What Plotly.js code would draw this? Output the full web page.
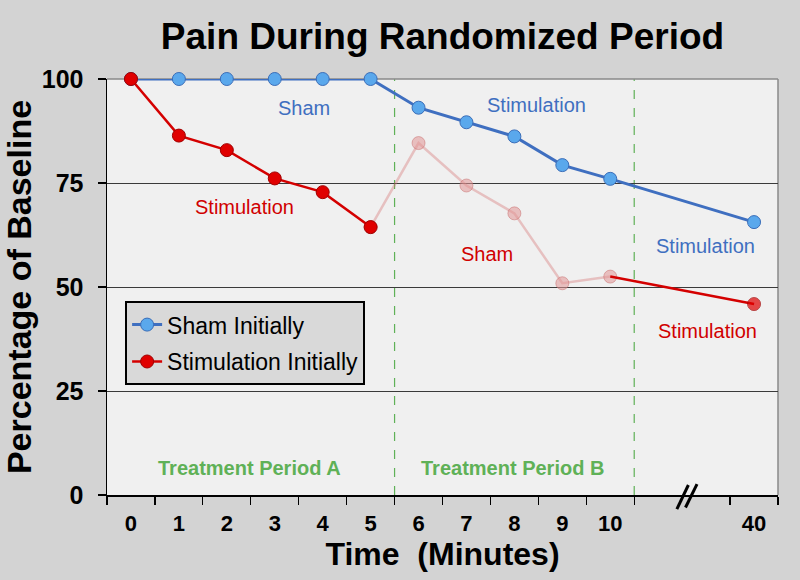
<!DOCTYPE html>
<html>
<head>
<meta charset="utf-8">
<script src="https://cdn.plot.ly/plotly-3.0.1.min.js"></script>
<style>html,body{margin:0;padding:0;background:#d3d3d3;}#chart{width:800px;height:580px;}</style>
</head>
<body>
<div id="chart"></div>
<script>
// ---- data ----
const xPos = [0, 1, 2, 3, 4, 5, 6, 7, 8, 9, 10, 13];           // axis positions (40 min drawn after an axis break)
const xLabels = ['0','1','2','3','4','5','6','7','8','9','10','40'];
const shamInitially = [100, 100, 100, 100, 100, 100, 93.1, 89.6, 86.2, 79.3, 76.0, 65.6];
const stimInitially = [100, 86.4, 82.9, 76.1, 72.8, 64.4, 84.6, 74.4, 67.7, 50.9, 52.5, 45.9];
const tickBounds = [-0.5, 0.5, 1.5, 2.5, 3.5, 4.5, 5.5, 6.5, 7.5, 8.5, 9.5, 10.5, 12.5, 13.5];
const periodBounds = [5.5, 10.5];
const yTicks = [0, 25, 50, 75, 100];

const FONT = 'Arial, "Liberation Sans", sans-serif';
const BLUE_LINE = '#3f6fc0', BLUE_MARK = '#5aa8ec';
const RED_LINE = '#d40000', RED_MARK = '#e00000';
const FADE_LINE = 'rgba(215,120,120,0.40)', FADE_MARK = 'rgba(225,150,150,0.55)';
const GREEN = '#5fb157';

const traces = [
  { // faded red middle section
    x: xPos.slice(5, 11), y: stimInitially.slice(5, 11), mode: 'lines+markers', showlegend: false,
    line: {color: FADE_LINE, width: 2.5},
    marker: {size: 13, color: FADE_MARK, line: {color: 'rgba(200,110,110,0.5)', width: 1}},
    hoverinfo: 'skip', cliponaxis: false
  },
  { // solid red tail
    x: xPos.slice(10, 12), y: stimInitially.slice(10, 12), mode: 'lines+markers', showlegend: false,
    line: {color: RED_LINE, width: 2.5},
    marker: {size: [0, 13], color: RED_MARK, line: {color: '#a00000', width: 1}},
    cliponaxis: false
  },
  {
    x: xPos, y: shamInitially, mode: 'lines+markers', name: 'Sham Initially', legendgroup: 'a',
    line: {color: BLUE_LINE, width: 3},
    marker: {size: 13, color: BLUE_MARK, line: {color: '#3a6db8', width: 1}},
    cliponaxis: false
  },
  {
    x: xPos.slice(0, 6), y: stimInitially.slice(0, 6), mode: 'lines+markers', name: 'Stimulation Initially', legendgroup: 'b',
    line: {color: RED_LINE, width: 2.5},
    marker: {size: 13, color: RED_MARK, line: {color: '#a00000', width: 1}},
    cliponaxis: false
  }
];

const shapes = [];
periodBounds.forEach(b => shapes.push({
  type: 'line', xref: 'x', yref: 'paper', x0: b, x1: b, y0: 0, y1: 1, layer: 'between',
  line: {color: GREEN, width: 1.2, dash: 'dash'}
}));
// plot frame (top and right)
shapes.push({type: 'line', xref: 'paper', yref: 'paper', x0: 0, x1: 1, y0: 1, y1: 1, layer: 'between', line: {color: '#8a8a8a', width: 1.5}});
shapes.push({type: 'line', xref: 'paper', yref: 'paper', x0: 1, x1: 1, y0: 0, y1: 1, layer: 'between', line: {color: '#8a8a8a', width: 1.5}});
// axis break marks
shapes.push({type: 'line', xref: 'x', yref: 'paper', x0: 11.39, x1: 11.63, y0: -0.034, y1: 0.024, layer: 'above', line: {color: '#000', width: 3}});
shapes.push({type: 'line', xref: 'x', yref: 'paper', x0: 11.57, x1: 11.81, y0: -0.030, y1: 0.026, layer: 'above', line: {color: '#000', width: 3}});

function note(text, x, y, color, bold) {
  return {text: bold ? '<b>' + text + '</b>' : text, x: x, y: y, xref: 'x', yref: 'y', showarrow: false,
          xanchor: 'center', yanchor: 'middle', font: {family: FONT, size: 20, color: color}};
}
const annotations = [
  note('Sham', 3.61, 93.0, BLUE_LINE),
  note('Stimulation', 8.47, 93.8, BLUE_LINE),
  note('Stimulation', 11.99, 59.9, BLUE_LINE),
  note('Stimulation', 2.37, 69.2, '#d00000'),
  note('Sham', 7.43, 57.9, '#d00000'),
  note('Stimulation', 12.03, 39.4, '#d00000'),
  note('Treatment Period A', 2.47, 6.5, GREEN, true),
  note('Treatment Period B', 7.95, 6.5, GREEN, true)
];

const layout = {
  width: 800, height: 580,
  paper_bgcolor: '#d3d3d3', plot_bgcolor: '#f0f0f0',
  margin: {l: 107, r: 22, t: 79, b: 85},
  font: {family: FONT, color: '#000'},
  title: {text: '<b>Pain During Randomized Period</b>', font: {family: FONT, size: 37, color: '#000'},
          x: 0.5, xref: 'paper', xanchor: 'center', y: 0.938, yanchor: 'middle'},
  xaxis: {
    range: [-0.5, 13.5], tickmode: 'array', tickvals: xPos, ticktext: xLabels.map(t => '<b>' + t + '</b>'),
    ticks: 'outside', ticklen: 8, tickcolor: 'rgba(0,0,0,0)',
    tickfont: {family: FONT, size: 22, color: '#000'},
    minor: {tickmode: 'array', tickvals: tickBounds, ticks: 'outside', ticklen: 8, tickwidth: 1.2, tickcolor: '#000', showgrid: false},
    showline: true, linecolor: '#000', linewidth: 1.5, showgrid: false, zeroline: false, fixedrange: true,
    title: {text: '<b>Time\u00a0\u00a0(Minutes)</b>', font: {family: FONT, size: 32, color: '#000'}, standoff: 4}
  },
  yaxis: {
    range: [0, 100], tickmode: 'array', tickvals: yTicks, ticktext: yTicks.map(t => '<b>' + t + '</b>'),
    ticks: 'outside', ticklen: 8, tickwidth: 1.2, tickcolor: '#000', ticklabelstandoff: 9,
    tickfont: {family: FONT, size: 25, color: '#000'},
    showline: true, linecolor: '#000', linewidth: 1.5, showgrid: true, gridcolor: '#3a3a3a', gridwidth: 1,
    zeroline: false, fixedrange: true,
    title: {text: '<b>Percentage of Baseline</b>', font: {family: FONT, size: 34, color: '#000'}, standoff: 2}
  },
  showlegend: true,
  legend: {x: 0.027, y: 0.466, xanchor: 'left', yanchor: 'top', bgcolor: '#d9d9d9', bordercolor: '#000', borderwidth: 2,
           font: {family: FONT, size: 23, color: '#000'}, tracegroupgap: 4, itemwidth: 30},
  shapes: shapes,
  annotations: annotations
};

Plotly.newPlot('chart', traces, layout, {displayModeBar: false, staticPlot: true});
</script>
</body>
</html>
